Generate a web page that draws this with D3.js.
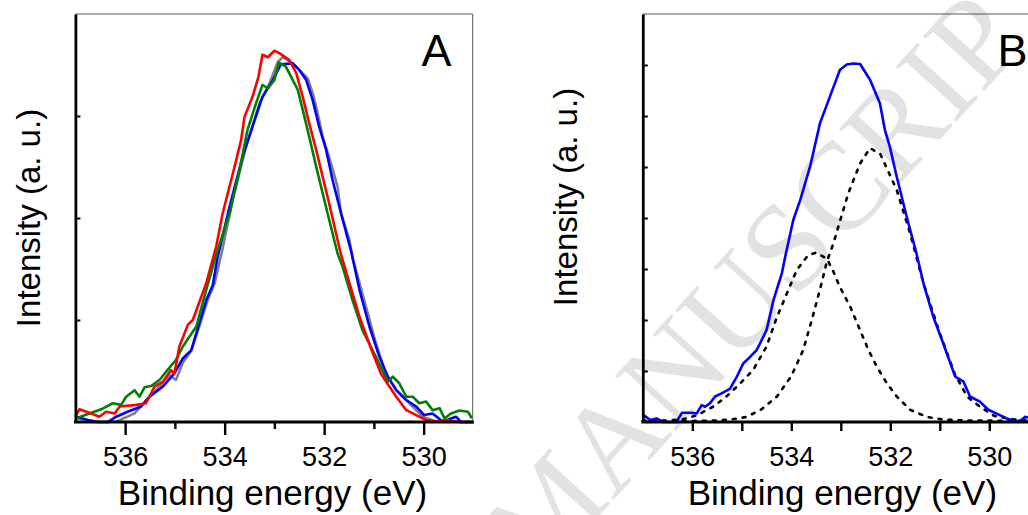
<!DOCTYPE html>
<html><head><meta charset="utf-8">
<script src="https://cdn.jsdelivr.net/npm/d3@7"></script>
<style>
body{margin:0;background:#fff;overflow:hidden}
text{font-family:"Liberation Sans",Arial,sans-serif}
</style>
</head><body><svg id="c" width="1028" height="515"></svg>
<script>
// ---------- data ----------
const majorTicks = [536, 534, 532, 530];
const minorTicks = [535, 533, 531];
const xLabel = "Binding energy (eV)";
const yLabel = "Intensity (a. u.)";
const watermark = "MANUSCRIPT";

// Panel A (intensity, arbitrary 0-100)
const grayE = [536.98,536.78,536.52,536.18,535.81,535.51,535.31,535.11,534.98,534.84,534.67,534.51,534.34,534.2,534.05,533.84,533.57,533.30,533.10,532.93,532.83,532.63,532.50,532.33,532.23,532.13,532.03,531.90,531.73,531.66,531.49,531.43,531.36,531.16,530.96,530.76,530.55,530.29,530.02,529.75,529.0];
const grayI = [1.0,0.5,0,0.1,2.1,6.2,8.7,11.5,10.3,14.5,17.6,23.4,29.9,34,42,54.4,67.5,78.1,83.0,88.3,89.4,87.9,86.3,84.2,80.6,75.7,69.9,65.0,57.7,51.1,44.6,40.1,37.3,28.3,19.3,11.9,7.8,4.6,1.3,0.1,0];

const blueAE = [536.98,536.75,536.55,536.35,536.18,535.95,535.68,535.51,535.24,535.01,534.84,534.67,534.51,534.37,534.24,534.14,533.90,533.64,533.44,533.24,533.03,532.87,532.63,532.50,532.36,532.23,532.10,531.96,531.83,531.66,531.45,531.29,531.09,530.89,530.72,530.55,530.35,530.15,529.99,529.82,529.62,529.35,529.25,529.0];
const blueAI = [1.3,0.5,0,0,1.3,2.5,3.8,6.2,8.7,11.9,15.6,17.6,24.2,29.9,33.5,40.5,52.8,65.0,72.4,79.7,83.8,87.7,87.9,86.3,83.8,78.9,72.4,66.7,59.3,51.1,41.5,32.4,23.4,16.0,11.1,7.8,5.4,3.8,1.7,2.1,0.1,1.3,0,0];

const greenE = [536.98,536.72,536.48,536.25,536.08,535.98,535.81,535.71,535.61,535.48,535.31,535.15,534.98,534.84,534.57,534.37,534.17,533.90,533.70,533.54,533.37,533.24,533.13,533.0,532.91,532.77,532.63,532.53,532.43,532.30,532.16,532.03,531.93,531.83,531.73,531.63,531.43,531.23,530.96,530.72,530.62,530.49,530.35,530.22,530.09,529.95,529.82,529.68,529.58,529.45,529.28,529.11,529.03];
const greenI = [0.9,2.1,3.1,4.6,4.2,6.2,7.8,6.2,8.5,8.8,10.3,12.7,15.2,18.5,23.4,32.4,41,51.1,61.8,71.6,78.1,82.6,81.8,83.8,88.1,87.1,83.8,81.4,76.5,69.9,62.6,56.1,51.1,46.2,41.3,38.1,29.9,22.5,16.0,9.9,11.1,9.5,6.2,6.2,4.6,5.0,2.9,3.4,0.9,2.1,2.8,2.5,0.9];

const redE = [537.0,536.92,536.68,536.52,536.38,536.21,536.11,535.78,535.58,535.41,535.24,535.08,535.01,534.91,534.74,534.64,534.37,534.27,534.17,534.04,533.80,533.67,533.60,533.44,533.32,533.24,533.13,533.0,532.9,532.7,532.56,532.43,532.30,532.16,532.03,531.9,531.76,531.66,531.49,531.29,531.02,530.86,530.69,530.55,530.35,530.15,529.95,529.75,529.55,529.28,529.0];
const redI = [1.3,3.1,2.1,1.3,2.5,2.1,3.8,4.2,4.6,8.7,9.9,12.7,11.9,18.5,23.8,25.0,34.0,38.5,43,51.1,62.6,69.1,74.8,79.7,84.6,90.0,89.4,91.0,90.4,88.7,85.5,79.7,73.2,66.7,60.1,53.6,46.2,41,34.0,25.8,16.8,11.9,8.7,6.2,2.9,1.7,0.5,0.1,0.5,0,0];

// Panel B (intensity, arbitrary 0-8)
const blueBE = [536.99,536.85,536.72,536.59,536.32,536.21,536.05,535.91,535.81,535.74,535.64,535.54,535.41,535.24,535.10,534.97,534.87,534.70,534.50,534.36,534.19,534.11,533.96,533.82,533.62,533.42,533.22,533.02,532.88,532.75,532.61,532.41,532.21,532.11,532.01,531.87,531.67,531.47,531.33,531.13,530.93,530.69,530.52,530.39,530.19,530.02,529.82,529.65,529.41,529.28,529.0];
const blueBI = [0.14,0.04,0.07,0,0,0.18,0.18,0.17,0.33,0.30,0.37,0.50,0.56,0.65,0.89,1.15,1.24,1.41,1.80,2.39,2.92,3.3,3.96,4.35,5.01,5.86,6.38,6.90,7.01,7.03,7.02,6.71,6.25,5.73,5.40,4.81,4.03,3.3,2.72,2.06,1.54,0.89,0.79,0.50,0.40,0.24,0.15,0.07,0,0.10,0.05];

const fit1E = [537,536,535.5,535.2,534.9,534.6,534.29,534.0,533.76,533.6,533.42,533.28,533.15,533.05,532.85,532.61,532.41,532.2,531.87,531.6,531.33,531.0,530.7,530.45,530.19,529.9,529.5,529.0];
const fit1I = [0.02,0.02,0.03,0.05,0.1,0.25,0.5,0.9,1.41,1.95,2.6,3.15,3.5,3.83,4.48,5.07,5.37,5.25,4.55,3.70,2.72,1.74,0.95,0.5,0.30,0.12,0.05,0.02];

const fit2E = [537,536.5,536.2,535.91,535.58,535.31,535.04,534.77,534.50,534.29,534.09,533.89,533.66,533.5,533.28,533.15,533.02,532.81,532.61,532.44,532.27,532.07,531.87,531.60,531.26,530.95,530.5,529.0];
const fit2I = [0.02,0.03,0.05,0.13,0.30,0.50,0.75,1.02,1.48,2.06,2.52,2.98,3.27,3.32,3.2,2.95,2.65,2.26,1.80,1.41,1.08,0.76,0.50,0.24,0.10,0.05,0.03,0.02];

const labelA = "A", labelB = "B";

// ---------- drawing ----------
const svg = d3.select("#c");
const zip = (E, I) => E.map((e, i) => [e, I[i]]);

// watermark
svg.append("text")
  .attr("transform", "translate(538,583) rotate(-47.8)")
  .style("font-family", "'Liberation Serif','Times New Roman',serif")
  .style("font-size", "125px")
  .attr("fill", "#e2e2e2")
  .text(watermark);

function panel(cfg) {
  const g = svg.append("g");
  const x = d3.scaleLinear().domain([537, 529]).range(cfg.xr);
  const y = d3.scaleLinear().domain(cfg.yd).range([422, 14]);

  // frame (thin top/right)
  g.append("line").attr("x1", cfg.xr[0]).attr("x2", cfg.frameRight).attr("y1", 14).attr("y2", 14)
    .attr("stroke", "#555").attr("stroke-width", 1);
  if (cfg.frameRight < 1028) {
    g.append("line").attr("x1", cfg.frameRight).attr("x2", cfg.frameRight).attr("y1", 14).attr("y2", 422)
      .attr("stroke", "#555").attr("stroke-width", 1);
  }

  const line = d3.line().x(d => x(d[0])).y(d => y(d[1]));
  cfg.series.forEach(s => {
    g.append("path").datum(zip(s.E, s.I)).attr("d", line)
      .attr("fill", "none").attr("stroke", s.color).attr("stroke-width", s.w || 2.6)
      .attr("stroke-linejoin", "round")
      .attr("stroke-linecap", s.dash ? "round" : "butt")
      .attr("stroke-dasharray", s.dash || null);
  });

  // y axis: ticks inward, no labels
  const ya = g.append("g").attr("transform", `translate(${cfg.xr[0]},0)`)
    .call(d3.axisLeft(y).tickValues(cfg.yTicks).tickSizeInner(-5).tickSizeOuter(0).tickFormat(""));
  ya.select(".domain").attr("stroke", "#000").attr("stroke-width", 2.8);
  ya.selectAll(".tick line").attr("stroke", "#000").attr("stroke-width", 2);

  // x axis minor
  const xm = g.append("g").attr("transform", "translate(0,422)")
    .call(d3.axisBottom(x).tickValues(minorTicks).tickSizeInner(cfg.minorLen).tickSizeOuter(0).tickFormat(""));
  xm.select(".domain").remove();
  xm.selectAll(".tick line").attr("stroke", "#000").attr("stroke-width", 2.4);

  const xa = g.append("g").attr("transform", "translate(0,422)")
    .call(d3.axisBottom(x).tickValues(majorTicks).tickSizeInner(cfg.majorLen).tickSizeOuter(0)
      .tickPadding(0).tickFormat(d3.format("d")));
  xa.select(".domain").attr("stroke", "#000").attr("stroke-width", 3)
    .attr("d", `M${cfg.xr[0]-1.4},0H${Math.min(cfg.frameRight, 1040)+1}`);
  xa.selectAll(".tick line").attr("stroke", "#000").attr("stroke-width", 2.4);
  xa.selectAll(".tick text").attr("y", 44).attr("dy", null)
    .style("font-size", "27px").attr("fill", "#000");

  // axis labels
  g.append("text").attr("x", cfg.xLabelX).attr("y", 505).attr("text-anchor", "middle")
    .style("font-size", "35px").attr("fill", "#000").text(xLabel);
  g.append("text").attr("transform", `translate(${cfg.yLabelX},${cfg.yLabelY}) rotate(-90)`)
    .attr("text-anchor", "middle").style("font-size", "33px").attr("fill", "#000").text(yLabel);

  g.append("text").attr("x", cfg.tagX).attr("y", 66).style("font-size", "45px").attr("fill", "#000").text(cfg.tag);
}

panel({
  xr: [75.4, 473.4], frameRight: 472.7, yd: [0, 100], yTicks: [25, 50, 75],
  majorLen: 13, minorLen: 7, xLabelX: 272.5, yLabelX: 39.5, yLabelY: 218,
  tag: labelA, tagX: 421.5,
  series: [
    {E: grayE, I: grayI, color: "#808080"},
    {E: blueAE, I: blueAI, color: "#0000ff"},
    {E: greenE, I: greenI, color: "#008000"},
    {E: redE, I: redI, color: "#ff0000"}
  ]
});

panel({
  xr: [642.8, 1038.8], frameRight: 2000, yd: [0, 8], yTicks: [1, 2, 3, 4, 5, 6, 7],
  majorLen: 9, minorLen: 9, xLabelX: 842.4, yLabelX: 576.7, yLabelY: 197,
  tag: labelB, tagX: 997.5,
  series: [
    {E: fit1E, I: fit1I, color: "#000", w: 2.6, dash: "3,7"},
    {E: fit2E, I: fit2I, color: "#000", w: 2.6, dash: "3,7"},
    {E: blueBE, I: blueBI, color: "#0000ff"}
  ]
});
</script>
</body></html>
